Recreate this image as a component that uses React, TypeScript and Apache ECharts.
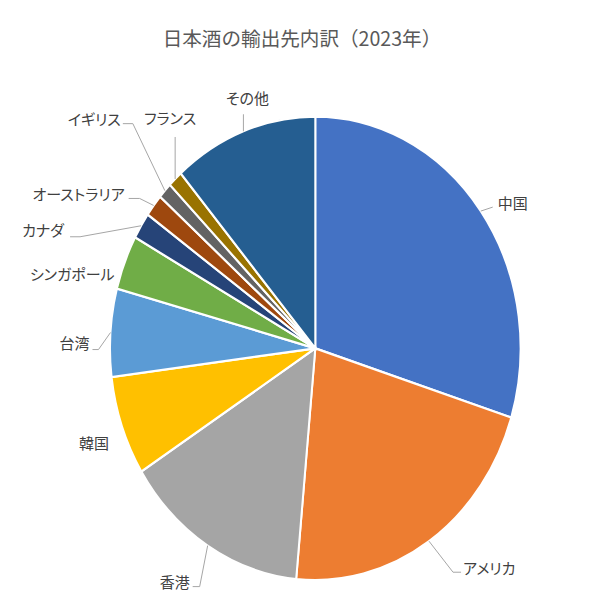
import React, { useEffect, useRef } from "react";
import * as echarts from "echarts";

const title = "日本酒の輸出先内訳（2023年）";
const categories = ["中国", "アメリカ", "香港", "韓国", "台湾", "シンガポール", "カナダ", "オーストラリア", "イギリス", "フランス", "その他"];
// 輸出金額（億円）
const values = [122.6, 89.0, 60.0, 28.5, 25.2, 15.6, 7.6, 6.4, 4.6, 4.7, 46.8];
const colors = ["#4472C4", "#ED7D31", "#A5A5A5", "#FFC000", "#5B9BD5", "#70AD47", "#264478", "#9E480E", "#636363", "#997300", "#255E91"];

// label layout (offsets from the slice's outer mid point)
const labelLines: number[][][] = [
  [[12, -4]],
  [[24, 31], [32, 31]],
  [[-8, 41], [-15, 41]],
  [],
  [[-12, 17], [-18, 17]],
  [],
  [[-61, 11], [-71, 11]],
  [[-14, -7], [-25, -7]],
  [[-32, -67], [-42, -67]],
  [[0, -42]],
  [[0, -17]],
];
const labelPos: number[][] = [
  [17, -9], [34, 26], [-18, 36], [-13, 16], [-21, 10], [-10, 11], [-77, 4], [-29, -12], [-44, -72], [-5, -61], [4, -34],
];
const labelAlign = ["left", "left", "right", "right", "right", "right", "right", "right", "right", "center", "center"];

const RX = 205.3;
const RY = 231.7;
const K = RY / RX;

export default function App() {
  const ref = useRef<HTMLDivElement>(null);
  useEffect(() => {
    if (!ref.current) return;
    const chart = echarts.init(ref.current, null, { renderer: "svg" });
    const total = values.reduce((a, b) => a + b, 0);
    let acc = 0;
    const sliceData = values.map((v, i) => {
      const s = acc;
      acc += v;
      return { name: categories[i], value: [1, s, acc, i] };
    });
    const renderItem = (params: any, api: any) => {
      const i = api.value(3);
      const s = api.value(1);
      const e = api.value(2);
      const cs = params.coordSys;
      const p1 = api.coord([1, s]);
      const p2 = api.coord([1, e]);
      const a1 = Math.atan2(p1[1] - cs.cy, p1[0] - cs.cx);
      let a2 = Math.atan2(p2[1] - cs.cy, p2[0] - cs.cx);
      while (a2 <= a1 + 1e-9) a2 += Math.PI * 2;
      const m = (a1 + a2) / 2;
      const ex = cs.cx + cs.r * Math.cos(m);
      const ey = cs.cy + cs.r * K * Math.sin(m);
      const children: any[] = [
        {
          type: "sector",
          x: cs.cx,
          y: cs.cy,
          scaleY: K,
          shape: { cx: 0, cy: 0, r: cs.r, r0: 0, startAngle: a1, endAngle: a2, clockwise: true },
          style: { fill: colors[i], stroke: "#ffffff", lineWidth: 2, strokeNoScale: true },
        },
      ];
      const lp = labelLines[i];
      if (lp.length) {
        children.push({
          type: "polyline",
          shape: { points: [[ex, ey], ...lp.map((p) => [ex + p[0], ey + p[1]])] },
          style: { stroke: "#A6A6A6", lineWidth: 1, fill: null },
        });
      }
      children.push({
        type: "text",
        style: {
          text: categories[i],
          x: ex + labelPos[i][0],
          y: ey + labelPos[i][1],
          fill: "#404040",
          fontSize: 15,
          fontFamily: '"Noto Sans CJK JP"',
          align: labelAlign[i],
          verticalAlign: "middle",
        },
      });
      return { type: "group", children };
    };
    chart.setOption({
      animation: false,
      backgroundColor: "#ffffff",
      title: {
        text: title,
        left: "center",
        top: 28,
        padding: 0,
        textStyle: { fontSize: 19.6, fontWeight: "normal", color: "#595959", fontFamily: '"Noto Sans CJK JP"' },
      },
      polar: { center: [315.3, 348.3], radius: RX },
      angleAxis: { type: "value", min: 0, max: total, startAngle: 90, clockwise: true, show: false },
      radiusAxis: { type: "value", min: 0, max: 1, show: false },
      series: [
        {
          type: "custom",
          coordinateSystem: "polar",
          encode: { radius: 0, angle: 1 },
          silent: true,
          data: sliceData,
          renderItem,
        },
      ],
    });
    return () => chart.dispose();
  }, []);
  return (
    <>
      <style>{'#root text[style*="15px"]{font-feature-settings:"palt" 1;}'}</style>
      <div ref={ref} style={{ position: "fixed", left: 0, top: 0, width: 604, height: 604 }} />
    </>
  );
}
